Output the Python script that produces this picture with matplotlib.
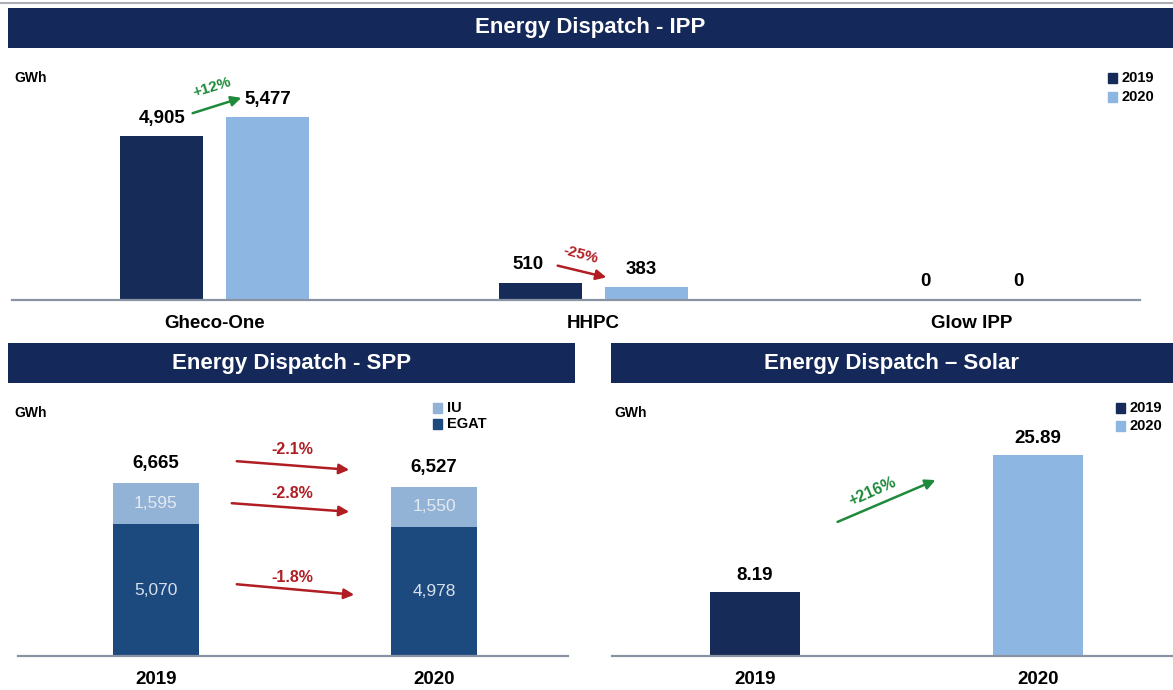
import matplotlib
matplotlib.use("Agg")
import matplotlib.pyplot as plt
from matplotlib.lines import Line2D
from matplotlib.patches import Rectangle, FancyArrowPatch

plt.rcParams['font.family'] = ['Liberation Sans', 'DejaVu Sans']

# ---------------- data ----------------
ipp_categories = ["Gheco-One", "HHPC", "Glow IPP"]
ipp_2019 = [4905, 510, 0]
ipp_2020 = [5477, 383, 0]
ipp_changes = ["+12%", "-25%", None]

spp_years = ["2019", "2020"]
spp_egat = [5070, 4978]
spp_iu = [1595, 1550]
spp_total = [6665, 6527]
spp_changes = ["-2.1%", "-2.8%", "-1.8%"]  # total, IU, EGAT

solar_years = ["2019", "2020"]
solar_values = [8.19, 25.89]
solar_change = "+216%"

# ---------------- style ----------------
W, H = 1173, 690
NAVY_HDR = "#14285a"
C2019 = "#172b58"
C2020 = "#8eb6e3"
EGAT = "#1d4a7e"
IU = "#92b2d6"
GREEN = "#1f8a3a"
RED = "#b01e24"
AXIS = "#8a93a3"

fig = plt.figure(figsize=(W / 100, H / 100), dpi=100)
fig.patch.set_facecolor("white")


def rect(l, t, r, b):
    return [l / W, 1 - b / H, (r - l) / W, (b - t) / H]


def fx(x):
    return x / W


def fy(y):
    return 1 - y / H


def header(l, t, r, b, text):
    ax = fig.add_axes(rect(l, t, r, b))
    ax.set_facecolor(NAVY_HDR)
    ax.set_xticks([]); ax.set_yticks([])
    for s in ax.spines.values():
        s.set_visible(False)
    ax.text(0.5, 0.5, text, color="white", fontsize=16, fontweight="bold",
            ha="center", va="center", transform=ax.transAxes)


def fig_arrow(x0, y0, x1, y1, color):
    fig.add_artist(FancyArrowPatch(
        (fx(x0), fy(y0)), (fx(x1), fy(y1)), transform=fig.transFigure,
        arrowstyle="-|>,head_length=6,head_width=3", color=color, lw=1.8,
        mutation_scale=1.0))


def fig_text(x, y, s, **kw):
    fig.text(fx(x), fy(y), s, ha="center", va="center", **kw)


def base_axes(l, t, r, b):
    ax = fig.add_axes(rect(l, t, r, b))
    for k in ["top", "right", "left"]:
        ax.spines[k].set_visible(False)
    ax.spines["bottom"].set_color(AXIS)
    ax.spines["bottom"].set_linewidth(1.6)
    ax.set_yticks([])
    ax.tick_params(axis="x", length=0, pad=11, labelsize=13.5)
    ax.patch.set_alpha(0)
    return ax


# thin top rule
fig.add_artist(Line2D([0, 1], [fy(3), fy(3)], transform=fig.transFigure,
                      color="#a9aeb6", lw=1.5))

# ---------------- IPP ----------------
header(8, 8, 1173, 48, "Energy Dispatch - IPP")
ax1 = base_axes(12, 60, 1140, 300)
x = list(range(len(ipp_categories)))
off, bw = 0.14, 0.219
ax1.bar([i - off for i in x], ipp_2019, bw, color=C2019, label="2019")
ax1.bar([i + off for i in x], ipp_2020, bw, color=C2020, label="2020")
ax1.set_xlim(-0.536, 2.444)
ax1.set_ylim(0, 7200)
ax1.set_xticks(x)
ax1.set_xticklabels(ipp_categories, fontweight="bold")
label_dx = {(1, 0): -9, (1, 1): -4, (2, 0): 5, (2, 1): -5}
for i in x:
    for j, (dx, v) in enumerate(((-off, ipp_2019[i]), (off, ipp_2020[i]))):
        ax1.annotate(f"{v:,}", (i + dx, v), xytext=(label_dx.get((i, j), 0), 13),
                     textcoords="offset points", ha="center", va="center",
                     fontsize=13.5, fontweight="bold")

fig.text(fx(14), fy(78), "GWh", fontsize=10, fontweight="bold", va="center")
for yy, c, lab in ((78, C2019, "2019"), (97, C2020, "2020")):
    fig.add_artist(Rectangle((fx(1108), fy(yy + 5)), 9 / W, 10 / H,
                             transform=fig.transFigure, color=c))
    fig.text(fx(1122), fy(yy), lab, fontsize=10.5, fontweight="bold", va="center")

# IPP change arrows
fig_arrow(190, 114, 244, 97, GREEN)
fig_text(212, 87, ipp_changes[0], color=GREEN, fontsize=11, fontweight="bold", rotation=17)
fig_arrow(555, 265, 609, 278, RED)
fig_text(581, 255, ipp_changes[1], color=RED, fontsize=11, fontweight="bold", rotation=-15)

# ---------------- SPP ----------------
header(8, 343, 575, 383, "Energy Dispatch - SPP")
ax2 = base_axes(18, 395, 568, 656)
xs = list(range(len(spp_years)))
bw2 = 0.309
ax2.bar(xs, spp_egat, bw2, color=EGAT, label="EGAT")
ax2.bar(xs, spp_iu, bw2, bottom=spp_egat, color=IU, label="IU")
ax2.set_xlim(-0.496, 1.482)
ax2.set_ylim(0, 10054)
ax2.set_xticks(xs)
ax2.set_xticklabels(spp_years, fontweight="bold")
for i in xs:
    ax2.text(i, spp_egat[i] / 2, f"{spp_egat[i]:,}", ha="center", va="center",
             color="#d7dfeb", fontsize=12.5)
    ax2.text(i, spp_egat[i] + spp_iu[i] / 2, f"{spp_iu[i]:,}", ha="center", va="center",
             color="#e4eaf2", fontsize=12.5)
    ax2.annotate(f"{spp_total[i]:,}", (i, spp_total[i]), xytext=(0, 14),
                 textcoords="offset points", ha="center", va="center",
                 fontsize=13.5, fontweight="bold")

fig.text(fx(14), fy(413), "GWh", fontsize=10, fontweight="bold", va="center")
for yy, c, lab in ((408, IU, "IU"), (424, EGAT, "EGAT")):
    fig.add_artist(Rectangle((fx(433), fy(yy + 5)), 9 / W, 10 / H,
                             transform=fig.transFigure, color=c))
    fig.text(fx(447), fy(yy), lab, fontsize=10.5, fontweight="bold", va="center")

for (x0, y0, x1, y1, ty), lab in zip(((234, 461, 352, 470, 449),
                                      (229, 503, 352, 512, 494),
                                      (234, 584, 357, 595, 578)), spp_changes):
    fig_arrow(x0, y0, x1, y1, RED)
    fig_text(292, ty, lab, color=RED, fontsize=11.5, fontweight="bold")

# ---------------- Solar ----------------
header(611, 343, 1173, 383, "Energy Dispatch \u2013 Solar")
ax3 = base_axes(612, 395, 1173, 656)
bw3 = 0.32
ax3.bar([0], [solar_values[0]], bw3, color=C2019, label="2019")
ax3.bar([1], [solar_values[1]], bw3, color=C2020, label="2020")
ax3.set_xlim(-0.505, 1.477)
ax3.set_ylim(0, 33.6)
ax3.set_xticks(range(len(solar_years)))
ax3.set_xticklabels(solar_years, fontweight="bold")
for i, v in enumerate(solar_values):
    ax3.annotate(f"{v:.2f}", (i, v), xytext=(0, 12), textcoords="offset points",
                 ha="center", va="center", fontsize=13.5, fontweight="bold")

fig.text(fx(614), fy(413), "GWh", fontsize=10, fontweight="bold", va="center")
for yy, c, lab in ((408, C2019, "2019"), (426, C2020, "2020")):
    fig.add_artist(Rectangle((fx(1116), fy(yy + 5)), 9 / W, 10 / H,
                             transform=fig.transFigure, color=c))
    fig.text(fx(1130), fy(yy), lab, fontsize=10.5, fontweight="bold", va="center")

fig_arrow(835, 523, 938, 479, GREEN)
fig_text(872, 492, solar_change, color=GREEN, fontsize=11.5, fontweight="bold", rotation=24)

fig.savefig("out.png", dpi=100, facecolor="white")
